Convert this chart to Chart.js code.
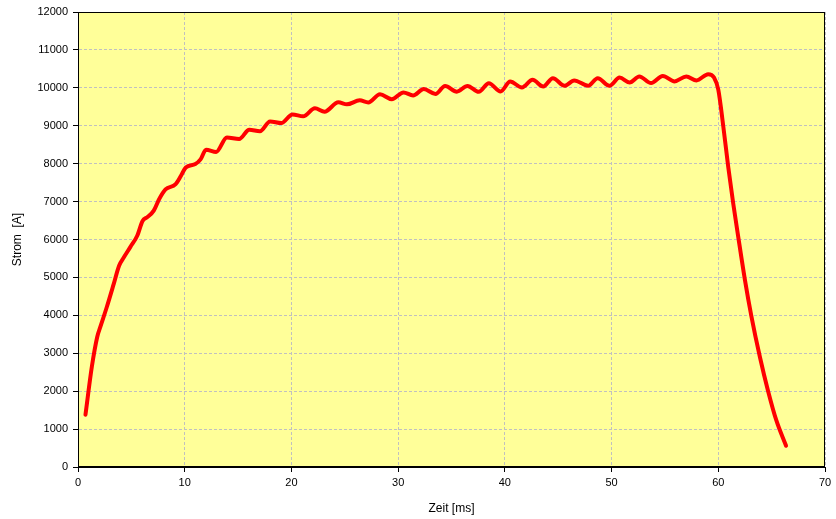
<!DOCTYPE html>
<html>
<head>
<meta charset="utf-8">
<script src="https://cdn.jsdelivr.net/npm/chart.js@4"></script>
<style>
  html, body { margin: 0; padding: 0; background: #ffffff; }
  #wrap { width: 836px; height: 519px; }
</style>
</head>
<body>
<div id="wrap"><canvas id="c" width="836" height="519"></canvas></div>
<script>
// Zeit in ms
const zeit = [
  0.7, 1.3, 1.8, 2.1, 2.7, 3.35, 3.85, 4.3, 4.9, 5.55, 6.05, 6.5, 7.1, 7.6, 8.2, 9.15, 9.65, 10.1,
  11.0, 11.5, 12.0, 12.95, 13.95, 15.1, 16.05, 17.05, 18.0, 19.05, 20.1, 21.1, 22.2, 23.1,
  24.4, 25.2, 26.4, 27.2, 28.3, 29.4, 30.5, 31.4, 32.4, 33.5, 34.4, 35.5, 36.5, 37.55,
  38.5, 39.6, 40.5, 41.6, 42.6, 43.6, 44.5, 45.6, 46.5, 47.8, 48.7, 49.8, 50.75, 51.7,
  52.6, 53.7, 54.8, 55.9, 57.0, 57.96, 59.05, 59.6, 60.0, 60.47, 60.93, 61.4, 61.87,
  62.5, 63.1, 63.9, 64.67, 65.45, 66.35
];
// Strom in A
const strom = [
  1380, 2650, 3430, 3700, 4220, 4830, 5310, 5530, 5800, 6100, 6490, 6590, 6760, 7060, 7320, 7460, 7680, 7900,
  7990, 8120, 8370, 8310, 8690, 8650, 8895, 8855, 9115, 9070, 9300, 9250, 9460, 9370,
  9620, 9565, 9670, 9615, 9830, 9700, 9880, 9800, 9970, 9840, 10050, 9900, 10050, 9895,
  10120, 9905, 10165, 10010, 10210, 10035, 10255, 10055, 10195, 10055, 10255, 10055, 10270, 10140,
  10300, 10125, 10315, 10170, 10300, 10195, 10360, 10270, 9950, 8980, 7920, 6950, 6070,
  4930, 3980, 2900, 2000, 1220, 560
];
const xTicks = [0, 10, 20, 30, 40, 50, 60, 70];
const yTicks = [0, 1000, 2000, 3000, 4000, 5000, 6000, 7000, 8000, 9000, 10000, 11000, 12000];

const punkte = zeit.map((t, i) => ({ x: t, y: strom[i] }));

// Plot area fill and frame
const plotFrame = {
  id: 'plotFrame',
  beforeDraw(chart) {
    const { ctx, chartArea: a } = chart;
    ctx.save();
    ctx.fillStyle = '#FFFF99';
    ctx.fillRect(a.left, a.top, a.right - a.left, a.bottom - a.top);
    ctx.restore();
  },
  beforeDatasetsDraw(chart) {
    const { ctx, chartArea: a } = chart;
    ctx.save();
    ctx.strokeStyle = '#000000';
    ctx.lineWidth = 1;
    ctx.strokeRect(Math.round(a.left) + 0.5, Math.round(a.top) + 0.5,
                   Math.round(a.right - a.left) - 1, Math.round(a.bottom - a.top) - 1);
    ctx.restore();
  }
};

const gridStyle = {
  color: '#C0C0C0',
  lineWidth: 1,
  drawTicks: true,
  tickLength: 5,
  tickColor: '#000000',
  tickBorderDash: [],
  tickWidth: 1
};
const axisBorder = { display: true, color: '#000000', width: 1, dash: [3, 2] };
const tickFont = { family: 'Liberation Sans, Arial, sans-serif', size: 11 };
const titleFont = { family: 'Liberation Sans, Arial, sans-serif', size: 12 };

new Chart(document.getElementById('c'), {
  type: 'line',
  data: {
    datasets: [{
      data: punkte,
      borderColor: '#FF0000',
      borderWidth: 4,
      pointRadius: 0,
      fill: false,
      cubicInterpolationMode: 'monotone',
      borderCapStyle: 'round',
      borderJoinStyle: 'round'
    }]
  },
  options: {
    responsive: false,
    animation: false,
    devicePixelRatio: 1,
    layout: { padding: { top: 12, right: 11, left: 0, bottom: 0 } },
    plugins: { legend: { display: false }, tooltip: { enabled: false } },
    scales: {
      x: {
        type: 'linear',
        min: 0, max: 70,
        afterBuildTicks: s => { s.ticks = xTicks.map(v => ({ value: v })); },
        afterFit: s => { s.height = 52; },
        grid: gridStyle,
        border: axisBorder,
        ticks: {
          autoSkip: false, maxRotation: 0, padding: 4,
          color: '#000000', font: tickFont,
          callback: v => String(v)
        },
        title: {
          display: true, text: 'Zeit [ms]', color: '#000000',
          padding: { top: 0, bottom: 3 },
          font: titleFont
        }
      },
      y: {
        type: 'linear',
        min: 0, max: 12000,
        afterBuildTicks: s => { s.ticks = yTicks.map(v => ({ value: v })); },
        afterFit: s => { s.width = 78; },
        grid: gridStyle,
        border: axisBorder,
        ticks: {
          padding: 5,
          color: '#000000', font: tickFont,
          callback: v => String(v)
        },
        title: {
          display: true, text: 'Strom  [A]', color: '#000000',
          padding: { top: 10, bottom: 0 },
          font: titleFont
        }
      }
    }
  },
  plugins: [plotFrame]
});
</script>
</body>
</html>
